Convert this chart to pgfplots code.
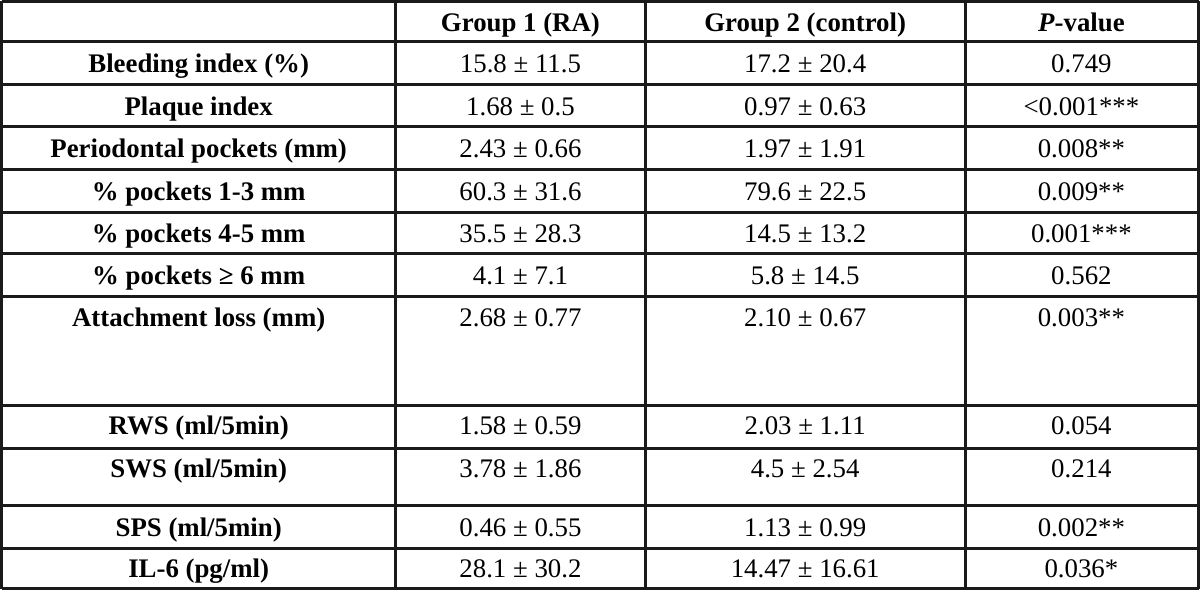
\documentclass[border=0pt]{standalone}
\usepackage{pgfplots}
\pgfplotsset{compat=1.18}
\usepackage{fontspec}
\setmainfont{Liberation Serif}
\definecolor{rule}{HTML}{1A1A1A}
\begin{document}
\begin{tikzpicture}
\begin{axis}[
  scale only axis, width=600pt, height=296pt,
  xmin=0, xmax=1200, ymin=0, ymax=592,
  hide axis, clip=false,
]
% horizontal rules (y measured from top: 592 - px)
\addplot[rule, line width=1.5pt] coordinates {(1,590) (1197,590)};
\addplot[rule, line width=1.5pt] coordinates {(1,550) (1197,550)};
\addplot[rule, line width=1.5pt] coordinates {(1,507) (1197,507)};
\addplot[rule, line width=1.5pt] coordinates {(1,465) (1197,465)};
\addplot[rule, line width=1.5pt] coordinates {(1,422) (1197,422)};
\addplot[rule, line width=1.5pt] coordinates {(1,379) (1197,379)};
\addplot[rule, line width=1.5pt] coordinates {(1,338) (1197,338)};
\addplot[rule, line width=1.5pt] coordinates {(1,295) (1197,295)};
\addplot[rule, line width=1.5pt] coordinates {(1,186) (1197,186)};
\addplot[rule, line width=1.5pt] coordinates {(1,143) (1197,143)};
\addplot[rule, line width=1.5pt] coordinates {(1,86) (1197,86)};
\addplot[rule, line width=1.5pt] coordinates {(1,43) (1197,43)};
\addplot[rule, line width=1.5pt] coordinates {(1,3) (1197,3)};
% vertical rules
\addplot[rule, line width=1.5pt] coordinates {(1,3) (1,590)};
\addplot[rule, line width=1.5pt] coordinates {(395,3) (395,590)};
\addplot[rule, line width=1.5pt] coordinates {(644,3) (644,590)};
\addplot[rule, line width=1.5pt] coordinates {(964,3) (964,590)};
\addplot[rule, line width=1.5pt] coordinates {(1197,3) (1197,590)};

\tikzset{cell/.style={anchor=base, inner sep=0pt, font=\fontsize{13.4}{16}\selectfont}}
% header
\node[cell] at (axis cs:519.5,560) {\bfseries Group 1 (RA)};
\node[cell] at (axis cs:804,560) {\bfseries Group 2 (control)};
\node[cell] at (axis cs:1080,560) {\bfseries\textit{P}-value};
% rows
\node[cell] at (axis cs:198,519) {\bfseries Bleeding index (\%)};
\node[cell] at (axis cs:519.5,519) {15.8 ± 11.5};
\node[cell] at (axis cs:804,519) {17.2 ± 20.4};
\node[cell] at (axis cs:1080,519) {0.749};

\node[cell] at (axis cs:198,476) {\bfseries Plaque index};
\node[cell] at (axis cs:519.5,476) {1.68 ± 0.5};
\node[cell] at (axis cs:804,476) {0.97 ± 0.63};
\node[cell] at (axis cs:1080,476) {<0.001***};

\node[cell] at (axis cs:198,434) {\bfseries Periodontal pockets (mm)};
\node[cell] at (axis cs:519.5,434) {2.43 ± 0.66};
\node[cell] at (axis cs:804,434) {1.97 ± 1.91};
\node[cell] at (axis cs:1080,434) {0.008**};

\node[cell] at (axis cs:198,391) {\bfseries \% pockets 1-3 mm};
\node[cell] at (axis cs:519.5,391) {60.3 ± 31.6};
\node[cell] at (axis cs:804,391) {79.6 ± 22.5};
\node[cell] at (axis cs:1080,391) {0.009**};

\node[cell] at (axis cs:198,349) {\bfseries \% pockets 4-5 mm};
\node[cell] at (axis cs:519.5,349) {35.5 ± 28.3};
\node[cell] at (axis cs:804,349) {14.5 ± 13.2};
\node[cell] at (axis cs:1080,349) {0.001***};

\node[cell] at (axis cs:198,307) {\bfseries \% pockets ≥ 6 mm};
\node[cell] at (axis cs:519.5,307) {4.1 ± 7.1};
\node[cell] at (axis cs:804,307) {5.8 ± 14.5};
\node[cell] at (axis cs:1080,307) {0.562};

\node[cell] at (axis cs:198,265) {\bfseries Attachment loss (mm)};
\node[cell] at (axis cs:519.5,265) {2.68 ± 0.77};
\node[cell] at (axis cs:804,265) {2.10 ± 0.67};
\node[cell] at (axis cs:1080,265) {0.003**};

\node[cell] at (axis cs:198,157) {\bfseries RWS (ml/5min)};
\node[cell] at (axis cs:519.5,157) {1.58 ± 0.59};
\node[cell] at (axis cs:804,157) {2.03 ± 1.11};
\node[cell] at (axis cs:1080,157) {0.054};

\node[cell] at (axis cs:198,114) {\bfseries SWS (ml/5min)};
\node[cell] at (axis cs:519.5,114) {3.78 ± 1.86};
\node[cell] at (axis cs:804,114) {4.5 ± 2.54};
\node[cell] at (axis cs:1080,114) {0.214};

\node[cell] at (axis cs:198,55) {\bfseries SPS (ml/5min)};
\node[cell] at (axis cs:519.5,55) {0.46 ± 0.55};
\node[cell] at (axis cs:804,55) {1.13 ± 0.99};
\node[cell] at (axis cs:1080,55) {0.002**};

\node[cell] at (axis cs:198,14) {\bfseries IL-6 (pg/ml)};
\node[cell] at (axis cs:519.5,14) {28.1 ± 30.2};
\node[cell] at (axis cs:804,14) {14.47 ± 16.61};
\node[cell] at (axis cs:1080,14) {0.036*};
\end{axis}
\end{tikzpicture}
\end{document}
